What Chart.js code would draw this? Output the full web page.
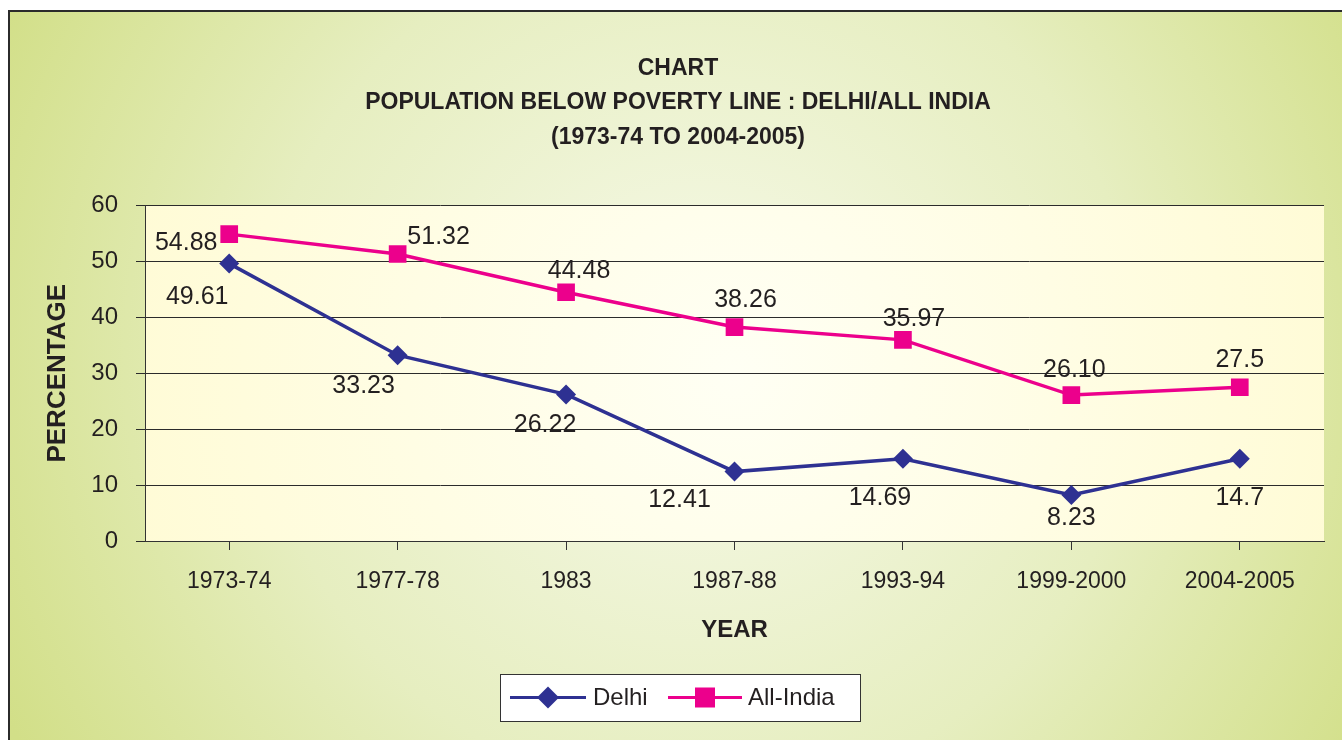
<!DOCTYPE html>
<html>
<head>
<meta charset="utf-8">
<title>Population below poverty line: Delhi / All India</title>
<script src="https://cdn.jsdelivr.net/npm/chart.js@4.4.1/dist/chart.umd.min.js"></script>
<style>
  html, body { margin: 0; padding: 0; background: #fff; }
  #wrap { width: 1342px; height: 740px; position: relative; }
</style>
</head>
<body>
<div id="wrap"><canvas id="povertyChart"></canvas></div>
<script>
const years = ['1973-74', '1977-78', '1983', '1987-88', '1993-94', '1999-2000', '2004-2005'];
const delhiValues = [49.61, 33.23, 26.22, 12.41, 14.69, 8.23, 14.7];
const allIndiaValues = [54.88, 51.32, 44.48, 38.26, 35.97, 26.10, 27.5];
const delhiLabels = ['49.61', '33.23', '26.22', '12.41', '14.69', '8.23', '14.7'];
const allIndiaLabels = ['54.88', '51.32', '44.48', '38.26', '35.97', '26.10', '27.5'];
const yTicks = [0, 10, 20, 30, 40, 50, 60];
const titleLines = ['CHART', 'POPULATION BELOW POVERTY LINE : DELHI/ALL INDIA', '(1973-74 TO 2004-2005)'];

// where each value label sits relative to its point (px)
const delhiLabelOffsets = [[-32, 34], [-34, 31], [-21, 31], [-55, 29], [-23, 39], [0, 23], [0, 39]];
const allIndiaLabelOffsets = [[-43, 9], [41, -17], [13, -21], [11, -27], [11, -21], [3, -25], [0, -27]];

const FONT = "'Liberation Sans Narrow', 'Arial Narrow', 'Liberation Sans', sans-serif";
const BLUE = '#2e3192';
const PINK = '#ec008c';
const INK = '#231f20';

const backgroundPlugin = {
    id: 'background',
    beforeDraw(chart) {
        const ctx = chart.ctx;
        const w = chart.width, h = chart.height;
        ctx.save();
        ctx.fillStyle = '#ffffff';
        ctx.fillRect(0, 0, w, h);

        // green panel
        let g = ctx.createRadialGradient(700, 360, 20, 700, 360, 780);
        g.addColorStop(0, '#f6f9e8');
        g.addColorStop(0.55, '#e6eec0');
        g.addColorStop(1, '#d2df88');
        ctx.fillStyle = g;
        ctx.fillRect(8, 10, w - 8, h - 10);

        ctx.strokeStyle = '#2b2b2b';
        ctx.lineWidth = 2;
        ctx.beginPath();
        ctx.moveTo(9, h + 5);
        ctx.lineTo(9, 11);
        ctx.lineTo(w + 5, 11);
        ctx.stroke();

        // plot area
        const a = chart.chartArea;
        const cx = (a.left + a.right) / 2, cy = (a.top + a.bottom) / 2;
        let pg = ctx.createRadialGradient(cx, cy, 0, cx, cy, (a.right - a.left) / 1.8);
        pg.addColorStop(0, '#fffff4');
        pg.addColorStop(1, '#fffbd4');
        ctx.fillStyle = pg;
        ctx.fillRect(a.left, a.top, a.right - a.left, a.bottom - a.top);
        ctx.restore();
    }
};

const valueLabelPlugin = {
    id: 'valueLabels',
    afterDatasetsDraw(chart) {
        const ctx = chart.ctx;
        const texts = [delhiLabels, allIndiaLabels];
        const offsets = [delhiLabelOffsets, allIndiaLabelOffsets];
        ctx.save();
        ctx.font = '25px ' + FONT;
        ctx.fillStyle = INK;
        ctx.textAlign = 'center';
        ctx.textBaseline = 'middle';
        chart.data.datasets.forEach((ds, d) => {
            const meta = chart.getDatasetMeta(d);
            meta.data.forEach((pt, i) => {
                ctx.fillText(texts[d][i], pt.x + offsets[d][i][0], pt.y + offsets[d][i][1]);
            });
        });
        ctx.restore();
    }
};

const boxLegendPlugin = {
    id: 'boxLegend',
    afterDraw(chart) {
        const ctx = chart.ctx;
        const x = 500, y = 674, w = 360, h = 47;
        const my = y + h / 2;
        ctx.save();
        ctx.fillStyle = '#ffffff';
        ctx.fillRect(x, y, w, h);
        ctx.strokeStyle = '#333333';
        ctx.lineWidth = 1;
        ctx.strokeRect(x + 0.5, y + 0.5, w, h);

        // Delhi
        ctx.strokeStyle = BLUE;
        ctx.lineWidth = 3;
        ctx.beginPath(); ctx.moveTo(510, my); ctx.lineTo(586, my); ctx.stroke();
        ctx.fillStyle = BLUE;
        ctx.beginPath();
        ctx.moveTo(548, my - 11); ctx.lineTo(559, my); ctx.lineTo(548, my + 11); ctx.lineTo(537, my);
        ctx.closePath(); ctx.fill();

        // All-India
        ctx.strokeStyle = PINK;
        ctx.beginPath(); ctx.moveTo(668, my); ctx.lineTo(742, my); ctx.stroke();
        ctx.fillStyle = PINK;
        ctx.fillRect(695, my - 10, 20, 20);

        ctx.fillStyle = INK;
        ctx.font = '24px ' + FONT;
        ctx.textBaseline = 'middle';
        ctx.textAlign = 'left';
        ctx.fillText(chart.data.datasets[0].label, 593, my + 1);
        ctx.fillText(chart.data.datasets[1].label, 748, my + 1);
        ctx.restore();
    }
};

const ctx = document.getElementById('povertyChart');

new Chart(ctx, {
    type: 'line',
    data: {
        labels: years,
        datasets: [{
            label: 'Delhi',
            data: delhiValues,
            borderColor: BLUE,
            backgroundColor: BLUE,
            borderWidth: 3.5,
            pointStyle: 'rectRot',
            pointRadius: 10,
            pointBorderWidth: 0,
            tension: 0
        }, {
            label: 'All-India',
            data: allIndiaValues,
            borderColor: PINK,
            backgroundColor: PINK,
            borderWidth: 3.5,
            pointStyle: 'rect',
            pointRadius: 12.5,
            pointBorderWidth: 0,
            tension: 0
        }]
    },
    options: {
        responsive: true,
        maintainAspectRatio: false,
        animation: false,
        layout: {
            padding: { left: 32, right: 18, top: 0, bottom: 85 }
        },
        plugins: {
            legend: { display: false },
            tooltip: { enabled: false },
            title: {
                display: true,
                text: titleLines,
                color: INK,
                font: { family: FONT, size: 23, weight: 'bold', lineHeight: 1.5 },
                padding: { top: 51, bottom: 51 }
            }
        },
        scales: {
            x: {
                offset: true,
                grid: {
                    drawOnChartArea: false,
                    drawTicks: true,
                    tickLength: 9,
                    color: '#333333'
                },
                border: { color: '#333333', width: 1 },
                ticks: {
                    color: INK,
                    font: { family: FONT, size: 23 },
                    padding: 18,
                    maxRotation: 0,
                    autoSkip: false
                },
                title: {
                    display: true,
                    text: 'YEAR',
                    color: INK,
                    font: { family: FONT, size: 24, weight: 'bold' },
                    padding: { top: 10, bottom: 10 }
                },
                afterFit(scale) { scale.height = 114; }
            },
            y: {
                min: 0,
                max: 60,
                afterBuildTicks(scale) {
                    scale.ticks = yTicks.map(v => ({ value: v }));
                },
                grid: {
                    color: '#2b2b2b',
                    lineWidth: 1,
                    tickLength: 9
                },
                border: { color: '#333333', width: 1 },
                ticks: {
                    color: INK,
                    font: { family: FONT, size: 24 },
                    padding: 18
                },
                title: {
                    display: true,
                    text: 'PERCENTAGE',
                    color: INK,
                    font: { family: FONT, size: 26, weight: 'bold' },
                    padding: { top: 10, bottom: 10 }
                },
                afterFit(scale) { scale.width = 113; }
            }
        }
    },
    plugins: [backgroundPlugin, valueLabelPlugin, boxLegendPlugin]
});
</script>
</body>
</html>
